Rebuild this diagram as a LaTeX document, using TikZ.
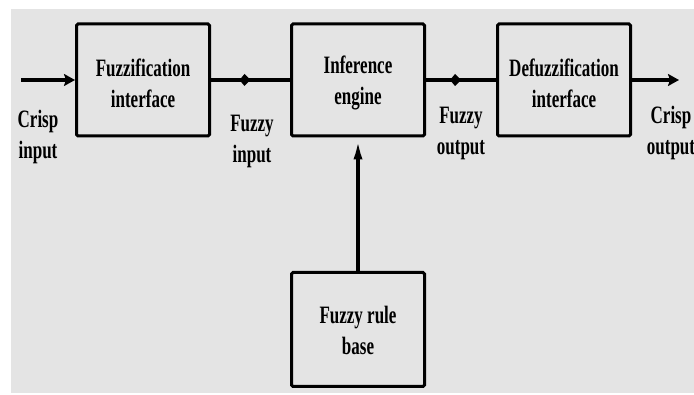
\documentclass[tikz,border=0pt]{standalone}
\usepackage{fontspec}
\setmainfont[FakeStretch=0.68]{Liberation Serif}
\usetikzlibrary{arrows.meta,decorations.markings}
\definecolor{bg}{RGB}{228,228,228}
\begin{document}
\begin{tikzpicture}[x=1pt,y=-1pt,
  txt/.style={font=\fontsize{25}{31}\selectfont\bfseries, align=center, inner sep=0pt},
  blockbox/.style={draw, line width=3pt, rounded corners=1.5pt, minimum width=133pt, minimum height=112pt, inner sep=0pt},
  conn/.style={line width=3.8pt},
  endarrow/.style={-{Stealth[length=11pt,width=12pt,inset=2pt]}},
  uparrow/.style={-{Latex[length=22pt,width=9pt]}},
  midarrow/.style={postaction={decorate}, decoration={markings, mark=at position 0.5 with {\arrow{Kite[length=11pt,width=12pt,inset=5pt]}}}}
]
\useasboundingbox (0,0) rectangle (694,395);
\fill[bg] (11,9) rectangle (694,393);

\node[blockbox] (fuzz) at (143,80) {};
\node[blockbox] (inf) at (358,80) {};
\node[blockbox] (defuzz) at (564,80) {};
\node[blockbox, minimum height=114pt] (rule) at (358,329.5) {};

\node[txt] (fuzzT) at ([yshift=-3pt]fuzz.center) {Fuzzification\\interface};
\node[txt] (infT) at ([yshift=-3pt]inf.center) {Inference\\engine};
\node[txt] (defuzzT) at ([yshift=-3pt]defuzz.center) {Defuzzification\\interface};
\node[txt] (ruleT) at ([yshift=-1pt]rule.center) {Fuzzy rule\\base};

\coordinate (cin) at (21,80);
\coordinate (cout) at (679,80);

\draw[conn, endarrow] (cin) -- (fuzz.west);
\draw[conn, midarrow] (fuzz.east) -- (inf.west);
\draw[conn, midarrow] (inf.east) -- (defuzz.west);
\draw[conn, endarrow] (defuzz.east) -- (cout);
\draw[conn, uparrow] (rule.north) -- (inf.south);

\node[txt] (l1) at (38,137) {Crisp\\input};
\node[txt] (l2) at (252,141) {Fuzzy\\input};
\node[txt] (l3) at (461,133) {Fuzzy\\output};
\node[txt] (l4) at (671,133) {Crisp\\output};
\end{tikzpicture}
\end{document}
